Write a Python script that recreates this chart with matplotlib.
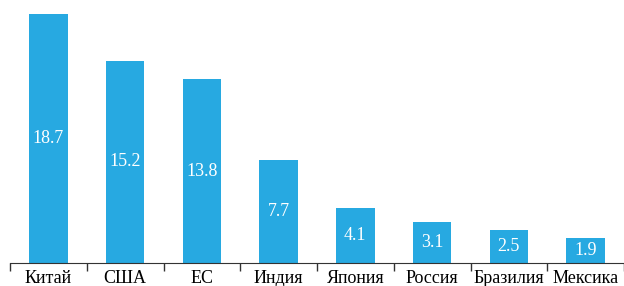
import matplotlib.pyplot as plt
import numpy as np

# Данные
countries = ['Китай', 'США', 'ЕС', 'Индия', 'Япония', 'Россия', 'Бразилия', 'Мексика']
values = [18.7, 15.2, 13.8, 7.7, 4.1, 3.1, 2.5, 1.9]

plt.rcParams['font.family'] = 'Liberation Serif'

fig = plt.figure(figsize=(6.24, 2.86), dpi=100)
ax = fig.add_axes([10 / 624, 23 / 286, 614 / 624, 249 / 286])

x = np.arange(len(countries))
bars = ax.bar(x, values, width=0.5, color='#27A9E1')

# Подписи значений внутри столбцов
for xi, v in zip(x, values):
    ax.text(xi, v / 2, f'{v}', ha='center', va='center', color='white', fontsize=13)

ax.set_xlim(-0.5, len(countries) - 0.5)
ax.set_ylim(0, 18.7)

# Засечки между категориями, подписи по центру
ax.set_xticks(np.arange(-0.5, len(countries), 1.0))
ax.set_xticklabels([])
ax.tick_params(axis='x', which='major', length=6, width=1, color='#333333', direction='out')
ax.set_xticks(x, minor=True)
ax.set_xticklabels(countries, minor=True, fontsize=13)
ax.tick_params(axis='x', which='minor', length=0, pad=5)

ax.set_yticks([])
for side in ['top', 'right', 'left']:
    ax.spines[side].set_visible(False)
ax.spines['bottom'].set_color('#333333')

fig.savefig('out.png', dpi=100)
